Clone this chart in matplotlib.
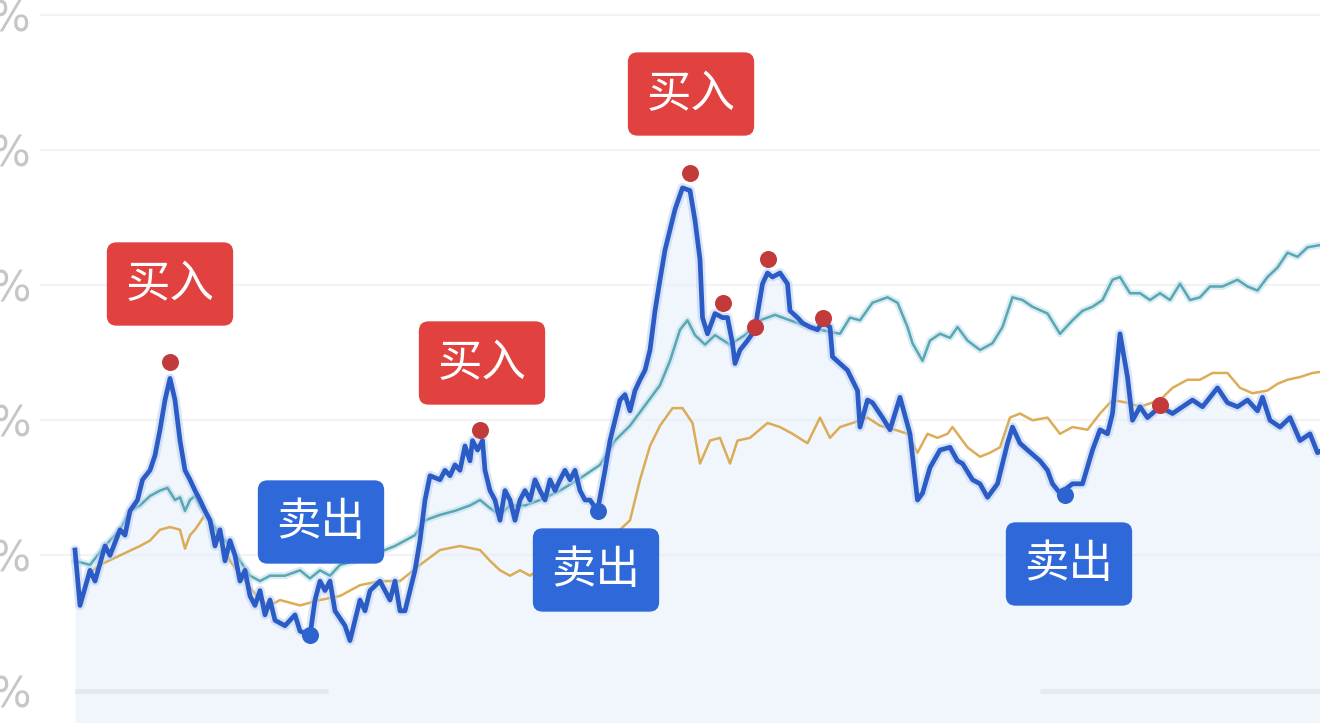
import matplotlib
matplotlib.use("Agg")
import matplotlib.pyplot as plt

plt.rcParams['font.family'] = ['Noto Sans CJK SC', 'DejaVu Sans']

# ---- data (trading-day index, return %) ----
blue_days = [0, 2, 6, 8, 12, 14, 18, 20, 22, 25, 27, 30, 32, 34, 36, 38, 40, 42, 44, 46, 48, 50, 52, 54, 56, 58,
             60, 62, 64, 66, 68, 70, 72, 74, 76, 78, 80, 84, 88, 90, 94, 96, 98, 100, 102, 104, 108, 110, 112, 114,
             116, 118, 122, 124, 126, 128, 130, 132, 134, 136, 138, 140, 142, 146, 148, 150, 152, 154, 156, 158,
             159, 161, 163, 164, 166, 168, 170, 172, 174, 176, 178, 180, 182, 184, 186, 188, 190, 192, 194, 196,
             198, 200, 202, 204, 206, 209, 212, 214, 216, 218, 220, 222, 224, 226, 228, 230, 232, 234, 236, 238,
             240, 243, 246, 248, 250, 251, 253, 256, 259, 261, 263, 264, 266, 269, 272, 273, 275, 277, 279, 282,
             285, 286, 289, 291, 294, 297, 299, 302, 303, 309, 313, 314, 317, 319, 323, 326, 330, 334, 337, 339,
             342, 346, 350, 353, 355, 359, 362, 365, 369, 373, 375, 378, 381, 386, 389, 391, 394, 399, 403, 407,
             410, 413, 415, 418, 421, 423, 426, 429, 434, 439, 443, 447, 451, 457, 461, 465, 469, 473, 475, 478,
             482, 486, 490, 494, 497, 499]
blue_vals = [0.4, -3.7, -1.1, -1.9, 0.7, 0.0, 1.9, 1.5, 3.3, 4.1, 5.6, 6.3, 7.4, 9.3, 11.5, 13.1, 11.5, 8.5, 6.3,
             5.6, 4.8, 4.1, 3.3, 2.6, 0.7, 1.9, -0.4, 1.1, 0.0, -1.9, -1.1, -3.0, -3.7, -2.6, -4.4, -3.3, -4.8,
             -5.2, -4.4, -5.6, -5.9, -3.3, -1.9, -2.6, -1.9, -4.1, -5.2, -6.3, -4.8, -3.3, -4.1, -2.6, -1.9, -2.6,
             -3.3, -1.9, -4.1, -4.1, -2.6, -1.1, 1.1, 4.1, 5.9, 5.6, 6.3, 5.9, 6.7, 6.3, 8.1, 7.0, 8.5, 7.8, 8.5,
             6.3, 4.8, 4.1, 2.6, 4.8, 4.1, 2.6, 4.1, 4.8, 4.1, 5.6, 4.8, 4.1, 5.6, 4.8, 5.6, 6.3, 5.6, 6.3, 4.8,
             4.1, 4.1, 3.3, 6.3, 8.5, 10.0, 11.5, 11.9, 10.7, 12.2, 13.0, 13.7, 15.2, 18.1, 20.4, 22.6, 24.1,
             25.6, 27.2, 27.0, 24.8, 21.9, 17.6, 16.4, 17.9, 17.6, 17.6, 15.7, 14.2, 15.2, 15.9, 16.7, 17.9, 20.1,
             20.9, 20.6, 20.9, 20.1, 18.1, 17.6, 17.2, 16.9, 16.7, 17.3, 16.9, 14.7, 13.7, 12.2, 9.5, 11.5, 11.3,
             10.2, 9.3, 11.7, 9.0, 4.1, 4.6, 6.5, 7.8, 8.0, 7.0, 6.8, 5.6, 5.3, 4.3, 5.3, 8.3, 9.5, 8.3, 7.8, 7.0,
             6.3, 5.3, 4.6, 5.3, 5.3, 7.8, 9.3, 9.0, 10.5, 16.4, 13.2, 10.0, 11.0, 10.2, 11.0, 10.5, 11.0, 11.5,
             11.0, 12.4, 11.3, 11.0, 11.5, 10.7, 11.7, 10.0, 9.5, 10.2, 8.5, 9.0, 7.6, 7.8]

teal_days = [0, 6, 12, 18, 22, 26, 30, 34, 37, 40, 42, 44, 46, 48, 50, 54, 58, 62, 66, 70, 74, 78, 84, 90, 94, 98,
             102, 106, 112, 118, 124, 128, 132, 136, 140, 146, 152, 158, 162, 166, 170, 174, 180, 186, 194, 202,
             210, 216, 222, 228, 234, 238, 242, 245, 248, 252, 256, 262, 268, 274, 280, 286, 292, 298, 306, 310,
             314, 319, 325, 329, 333, 335, 339, 342, 346, 350, 353, 357, 362, 367, 371, 375, 379, 383, 389, 394,
             399, 403, 407, 411, 415, 418, 422, 426, 430, 434, 438, 442, 446, 450, 454, 459, 465, 469, 473, 477,
             481, 485, 489, 493, 499]
teal_vals = [-0.4, -0.7, 0.7, 1.9, 3.3, 3.7, 4.4, 4.8, 5.0, 4.1, 4.3, 3.3, 4.1, 4.4, 3.7, 2.6, 1.5, 0.7, -0.4, -1.5,
             -1.9, -1.5, -1.5, -1.1, -1.7, -1.1, -1.5, -0.7, -0.4, 0.0, 0.4, 0.7, 1.1, 1.5, 2.6, 3.0, 3.3, 3.7, 4.1,
             3.5, 3.0, 3.7, 3.7, 4.1, 4.8, 5.7, 6.7, 8.5, 9.6, 11.1, 12.6, 14.4, 16.7, 17.4, 16.3, 15.6, 16.3, 15.6,
             16.3, 17.4, 17.8, 17.4, 17.0, 16.7, 16.4, 17.6, 17.4, 18.7, 19.1, 18.7, 16.9, 15.7, 14.4, 15.9, 16.4,
             16.1, 16.9, 15.9, 15.2, 15.7, 16.9, 19.1, 18.9, 18.4, 17.9, 16.4, 17.4, 18.1, 18.4, 18.9, 20.4, 20.6,
             19.4, 19.4, 18.9, 19.4, 18.9, 20.1, 18.9, 19.1, 19.9, 19.9, 20.4, 19.9, 19.6, 20.6, 21.3, 22.4, 22.1,
             22.8, 23.0]

orange_days = [6, 10, 18, 26, 30, 34, 38, 42, 44, 46, 48, 52, 56, 62, 68, 74, 78, 82, 90, 98, 106, 114, 122, 130,
               138, 146, 154, 162, 166, 170, 174, 178, 182, 188, 194, 202, 210, 218, 222, 226, 230, 234, 239, 243,
               247, 250, 254, 258, 262, 265, 270, 277, 282, 287, 293, 298, 302, 306, 311, 317, 322, 328, 333, 337,
               341, 345, 349, 351, 357, 362, 366, 370, 374, 378, 383, 389, 394, 399, 405, 410, 415, 421, 426, 434,
               439, 445, 450, 455, 461, 466, 471, 477, 481, 485, 490, 495, 499]
orange_vals = [-1.3, -0.7, 0.0, 0.7, 1.1, 1.9, 2.1, 1.9, 0.5, 1.5, 1.9, 3.0, 1.9, -0.4, -1.9, -3.3, -3.7, -3.3, -3.7,
               -3.3, -3.0, -2.2, -1.9, -1.9, -0.7, 0.4, 0.7, 0.4, -0.4, -1.1, -1.5, -1.1, -1.5, -0.7, -0.7, -0.4,
               0.7, 1.9, 2.6, 5.6, 8.1, 9.6, 10.9, 10.9, 9.8, 6.8, 8.5, 8.7, 6.8, 8.5, 8.7, 9.8, 9.5, 9.0, 8.3, 10.2,
               8.7, 9.5, 9.8, 10.2, 9.6, 9.3, 9.0, 7.6, 9.0, 8.7, 9.0, 9.5, 8.0, 7.3, 7.6, 8.0, 10.2, 10.5, 10.0,
               10.2, 9.0, 9.5, 9.3, 10.5, 11.5, 11.3, 11.0, 11.5, 12.4, 13.0, 13.0, 13.5, 13.5, 12.4, 12.0, 12.2,
               12.7, 13.0, 13.2, 13.5, 13.6]

buy_days = [38, 162, 246, 259, 272, 277, 299, 434]
buy_vals = [14.3, 9.3, 28.3, 18.7, 16.9, 21.9, 17.6, 11.1]
sell_days = [94, 209, 396]
sell_vals = [-5.9, 3.3, 4.5]

y_ticks = [-10, 0, 10, 20, 30, 40]
y_labels = ['-10%', '0%', '10%', '20%', '30%', '40%']

buy_label = '买入'
sell_label = '卖出'

# ---- figure ----
W, H = 1320, 723
fig = plt.figure(figsize=(W / 100, H / 100), dpi=100)
fig.patch.set_facecolor('white')
ax = fig.add_axes([40 / W, 0, 1 - 40 / W, 1])
ax.set_facecolor('white')
ax.set_xlim(-14, 498)
ax.set_ylim(-12.4, 41.1)

for s in ax.spines.values():
    s.set_visible(False)
ax.set_xticks([])
ax.set_yticks(y_ticks)
ax.set_yticklabels(y_labels, fontsize=30, color='#c6c6c6', family='DejaVu Sans')
ax.tick_params(axis='y', length=0, pad=6)
for t in y_ticks[1:]:
    ax.axhline(t, color='#f1f3f5', lw=1.5, zorder=0)
ax.hlines(-10, 0, 101, color='#e3e3e3', lw=3.5, zorder=1)
ax.hlines(-10, 386, 498, color='#e8e8e8', lw=3.5, zorder=1)

# light fill below blue line
ax.fill_between(blue_days, blue_vals, -12.4, color='#e4eefb', alpha=0.5, zorder=1, lw=0)

ax.plot(orange_days, orange_vals, color='#d9a444', lw=1.8, zorder=3, alpha=0.9)
ax.plot(teal_days, teal_vals, color='#bfe0ea', lw=5, zorder=3, alpha=0.6)
ax.plot(teal_days, teal_vals, color='#5aa6b4', lw=1.8, zorder=3)
ax.plot(blue_days, blue_vals, color='#b8cdf2', lw=7, zorder=4, alpha=0.5, solid_capstyle='round')
ax.plot(blue_days, blue_vals, color='#2b5cc6', lw=3.4, zorder=5, solid_joinstyle='round')

ax.scatter(buy_days, buy_vals, s=150, color='#c23a3a', zorder=6, linewidths=0)
ax.scatter(sell_days, sell_vals, s=150, color='#2d63cf', zorder=6, linewidths=0)

# ---- labels ----
def label(cx, cy, txt, fc):
    fig.text(cx / W, 1 - cy / H, txt, ha='center', va='center', fontsize=32, color='white',
             bbox=dict(boxstyle='round,pad=0.42,rounding_size=0.22', fc=fc, ec='none'), zorder=10)

label(170, 284, buy_label, '#e2423f')
label(482, 363, buy_label, '#e2423f')
label(691, 94, buy_label, '#e2423f')
label(321, 522, sell_label, '#2f68d8')
label(596, 570, sell_label, '#2f68d8')
label(1069, 564, sell_label, '#2f68d8')

fig.savefig('out.png', dpi=100, facecolor='white')
